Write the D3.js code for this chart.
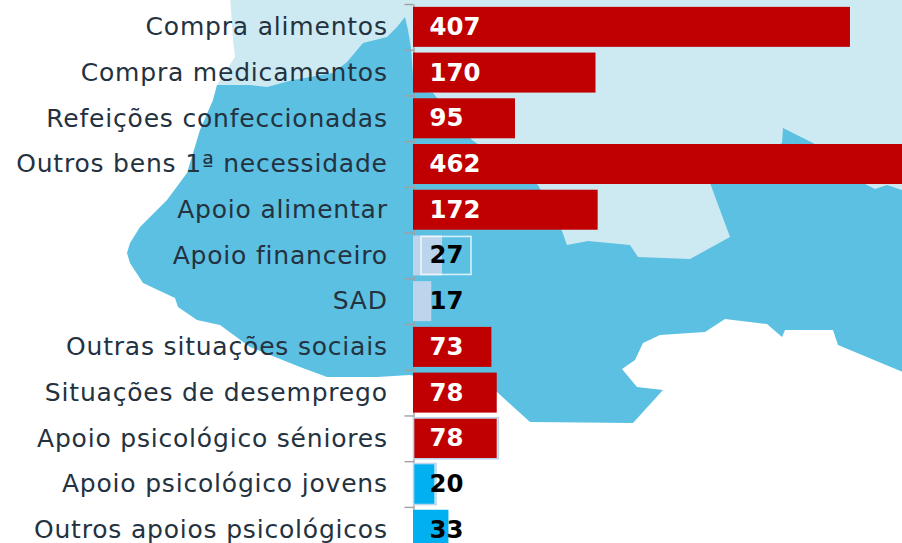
<!DOCTYPE html>
<html><head><meta charset="utf-8">
<script src="https://cdn.jsdelivr.net/npm/d3@7"></script>
<style>html,body{margin:0;padding:0;background:#fff;overflow:hidden}svg{display:block}</style>
</head><body><svg id="c" width="902" height="543"><defs><filter id="soft" x="-2%" y="-2%" width="104%" height="104%"><feGaussianBlur stdDeviation="0.6"/></filter></defs></svg>
<script>
const categories = ["Compra alimentos","Compra medicamentos","Refeições confeccionadas","Outros bens 1ª necessidade","Apoio alimentar","Apoio financeiro","SAD","Outras situações sociais","Situações de desemprego","Apoio psicológico séniores","Apoio psicológico jovens","Outros apoios psicológicos"];
const values = [407,170,95,462,172,27,17,73,78,78,20,33];
const groups = ["high","high","high","high","high","pale","pale","high","high","high","blue","blue"];
const groupColors = {high:"#c00000",pale:"#bcd5ed",blue:"#00b0f0"};
const labelColors = {high:"#ffffff",pale:"#000000",blue:"#000000"};
const landOutline = [[230,-3],[231,10],[233,40],[235,57],[225,72],[217,85],[213,100],[300,200],[560,262],[700,262],[905,205],[905,-3]];
const seaOutline = [[405,17],[408,30],[411,48],[414,90],[433,93],[472,140],[538,185],[562,231],[567,245],[588,241],[630,245],[638,257],[690,259],[730,237],[710,183],[782,143],[783,128],[813,143],[863,183],[875,189],[887,185],[905,191],[905,373],[838,345],[833,330],[785,330],[782,337],[767,324],[725,319],[705,332],[660,335],[643,343],[635,360],[622,369],[637,387],[663,390],[633,423],[530,422],[497,392],[410,375],[377,377],[327,377],[300,367],[250,347],[220,325],[197,320],[178,307],[175,298],[143,283],[130,263],[127,253],[130,243],[140,227],[167,200],[187,173],[200,130],[213,100],[217,85],[250,85],[267,87],[293,80],[333,73],[347,62],[363,43],[387,37],[397,27]];

const svg = d3.select("#c");
const outline = d3.line().curve(d3.curveLinearClosed);
const map = svg.append("g").attr("filter", "url(#soft)");
map.append("path").attr("d", outline(landOutline)).attr("fill", "#cdeaf3");
map.append("path").attr("d", outline(seaOutline)).attr("fill", "#5bc0e2");

const idx = d3.scaleLinear().domain([0, categories.length]).range([4, 552.6]);
const y = d3.scaleBand().domain(categories).range(idx.range()).paddingInner(0.125).paddingOuter(0.0625);
const x = d3.scaleLinear().domain([0, 462]).range([413, 909]);

const axis = svg.append("g").attr("transform", "translate(413.5,0)")
  .call(d3.axisLeft(idx).tickValues(d3.range(0, categories.length + 1)).tickFormat("").tickSize(9).tickSizeOuter(0));
axis.selectAll("path,line").attr("stroke", "#a0a0a0").attr("stroke-width", 1.4);

svg.append("g").selectAll("text").data(categories).join("text")
  .attr("x", 387.8).attr("y", d => y(d) + y.bandwidth() / 2).attr("dy", "0.33em")
  .attr("text-anchor", "end").attr("font-family", "'DejaVu Sans'").attr("font-size", 25)
  .attr("letter-spacing", 0.8).attr("fill", "#243240").text(d => d);

svg.append("g").selectAll("rect").data(categories).join("rect")
  .attr("x", x(0)).attr("y", d => y(d)).attr("height", y.bandwidth())
  .attr("width", (d, i) => x(values[i]) - x(0))
  .attr("fill", (d, i) => groupColors[groups[i]]);

const hilite = categories[5];
svg.append("rect").attr("x", x(0) + 8).attr("y", y(hilite) + 1)
  .attr("width", 50).attr("height", y.bandwidth() - 2)
  .attr("fill", "none").attr("stroke", "#fff").attr("stroke-opacity", 0.75).attr("stroke-width", 1.6);

const outlined = [categories[9], categories[10]];
svg.append("g").selectAll("rect").data(outlined).join("rect")
  .attr("x", x(0) + 0.5).attr("y", d => y(d) - 0.5).attr("height", y.bandwidth() + 1)
  .attr("width", d => x(values[categories.indexOf(d)]) - x(0) + 1)
  .attr("fill", "none").attr("stroke", "#bcd5ed").attr("stroke-width", 1.6);

svg.append("g").selectAll("text").data(categories).join("text")
  .attr("x", 429.5).attr("y", d => y(d) + y.bandwidth() / 2).attr("dy", "0.33em")
  .attr("font-family", "'DejaVu Sans'").attr("font-weight", "bold").attr("font-size", 24.4)
  .attr("fill", (d, i) => labelColors[groups[i]]).text((d, i) => values[i]);
</script></body></html>
